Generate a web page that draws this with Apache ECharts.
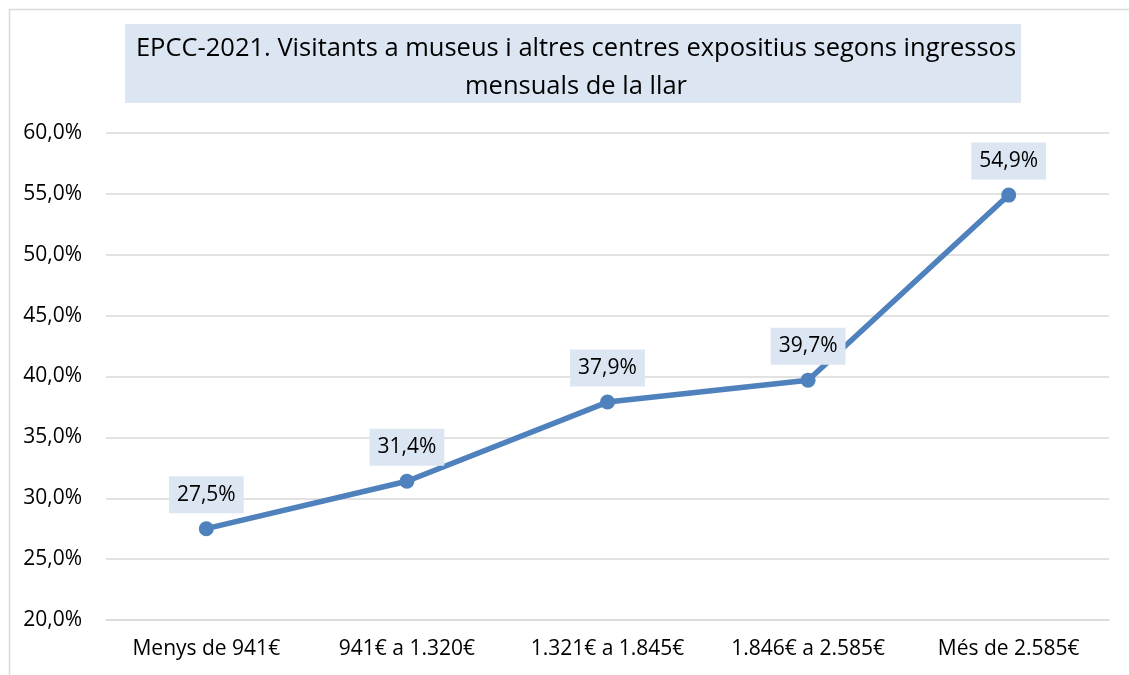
<!DOCTYPE html>
<html><head><meta charset="utf-8">
<script src="https://cdn.jsdelivr.net/npm/echarts@6/dist/echarts.min.js"></script>
<style>html,body{margin:0;padding:0;background:#fff}#c{width:1129px;height:675px}</style>
</head><body><div id="c"></div>
<script>
const categories = ['Menys de 941€', '941€ a 1.320€', '1.321€ a 1.845€', '1.846€ a 2.585€', 'Més de 2.585€'];
const values = [27.5, 31.4, 37.9, 39.7, 54.9];
const titleText = 'EPCC-2021. Visitants a museus i altres centres expositius segons ingressos\nmensuals de la llar';
const FONT = 'Open Sans';
const fmt = v => v.toFixed(1).replace('.', ',') + '%';

const chart = echarts.init(document.getElementById('c'), null, {renderer: 'canvas'});
chart.setOption({
  animation: false,
  backgroundColor: '#fff',
  graphic: [
    {type: 'rect', left: 7, top: 7, shape: {width: 1140, height: 700}, style: {fill: 'none', stroke: '#d9d9d9', lineWidth: 1.5}, z: 0},
    {type: 'rect', left: 125, top: 24, shape: {width: 896, height: 79}, style: {fill: '#dce6f2'}, z: 1}
  ],
  title: {
    text: titleText,
    left: 571, top: 25, textAlign: 'center',
    textStyle: {fontFamily: FONT, fontSize: 25.5, fontWeight: 'normal', color: '#000', lineHeight: 38}
  },
  grid: {left: 106, right: 20, top: 133, bottom: 55},
  xAxis: {
    type: 'category', data: categories,
    axisLine: {show: true, lineStyle: {color: '#d9d9d9', width: 1.5}},
    axisTick: {show: false},
    axisLabel: {fontFamily: FONT, fontSize: 21, color: '#000', margin: 19}
  },
  yAxis: {
    type: 'value', min: 20, max: 60, interval: 5,
    axisLine: {show: false}, axisTick: {show: false},
    splitLine: {lineStyle: {color: '#d9d9d9', width: 1.5}},
    axisLabel: {fontFamily: FONT, fontSize: 21, color: '#000', margin: 24, formatter: fmt}
  },
  series: [{
    type: 'line', data: values,
    lineStyle: {color: '#4f81bd', width: 5.5},
    itemStyle: {color: '#4f81bd'},
    symbol: 'circle', symbolSize: 15,
    label: {
      show: true, position: 'top', distance: 8,
      formatter: p => fmt(p.value),
      fontFamily: FONT, fontSize: 21, color: '#000',
      backgroundColor: '#dce6f2', padding: [8, 8, 8, 8]
    }
  }]
});
</script></body></html>
